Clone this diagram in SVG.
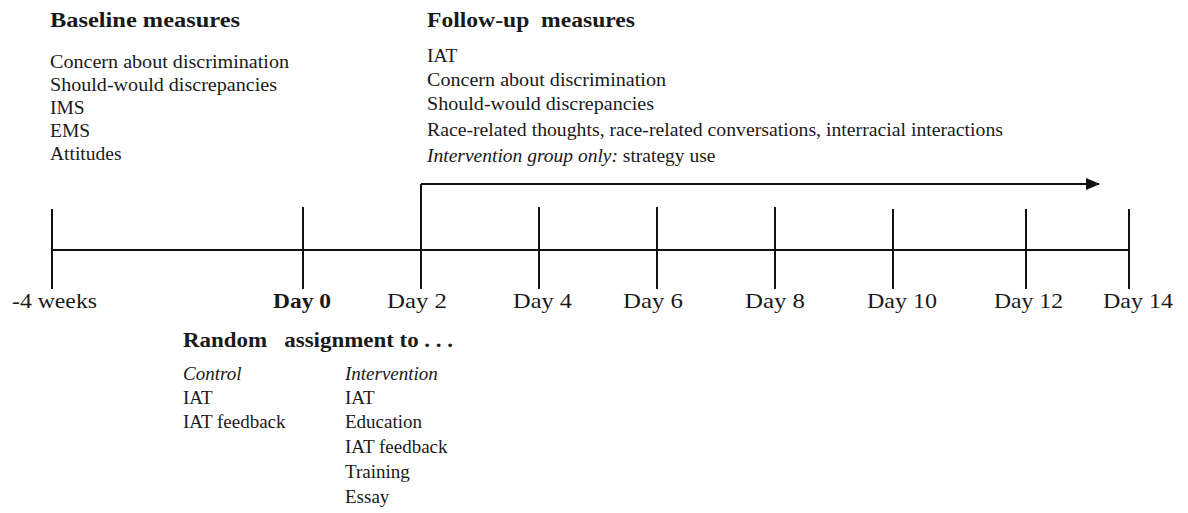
<svg xmlns="http://www.w3.org/2000/svg" width="1188" height="513" viewBox="0 0 1188 513">
<style>
text{font-family:"Liberation Serif","Times New Roman",serif;fill:#1a1a1a;white-space:pre}
.h{font-weight:bold;font-size:20px}
.b{font-size:19.5px}
.t{font-size:21px}
.r{font-size:19px}
.i{font-style:italic}
.ln{stroke:#111;stroke-width:2;fill:none}
</style>
<defs>
<marker id="ah" markerWidth="14" markerHeight="12" refX="13" refY="6" orient="auto" markerUnits="userSpaceOnUse">
<path d="M0,0 L14,6 L0,12 Z" fill="#111"/>
</marker>
</defs>
<g id="baseline">
<text class="h" x="50" y="27" textLength="190" lengthAdjust="spacingAndGlyphs">Baseline measures</text>
<text class="b" x="50" y="68" textLength="239" lengthAdjust="spacingAndGlyphs">Concern about discrimination</text>
<text class="b" x="50" y="91" textLength="227" lengthAdjust="spacingAndGlyphs">Should-would discrepancies</text>
<text class="b" x="50" y="114">IMS</text>
<text class="b" x="50" y="137">EMS</text>
<text class="b" x="50" y="160">Attitudes</text>
</g>
<g id="followup">
<text class="h" x="427" y="27" textLength="208" lengthAdjust="spacingAndGlyphs">Follow-up  measures</text>
<text class="b" x="427" y="62">IAT</text>
<text class="b" x="427" y="86" textLength="239" lengthAdjust="spacingAndGlyphs">Concern about discrimination</text>
<text class="b" x="427" y="110" textLength="227" lengthAdjust="spacingAndGlyphs">Should-would discrepancies</text>
<text class="b" x="427" y="136" textLength="576" lengthAdjust="spacingAndGlyphs">Race-related thoughts, race-related conversations, interracial interactions</text>
<text class="b" x="427" y="162"><tspan class="i">Intervention group only:</tspan> strategy use</text>
</g>
<g id="connectors">
<line class="ln" x1="52" y1="250" x2="1129" y2="250"/>
<line class="ln" x1="52" y1="209" x2="52" y2="289"/>
<line class="ln" x1="303" y1="207" x2="303" y2="289"/>
<line class="ln" x1="421" y1="184" x2="421" y2="289"/>
<line class="ln" x1="539" y1="207" x2="539" y2="289"/>
<line class="ln" x1="657" y1="207" x2="657" y2="289"/>
<line class="ln" x1="775" y1="207" x2="775" y2="289"/>
<line class="ln" x1="893" y1="209" x2="893" y2="289"/>
<line class="ln" x1="1026" y1="209" x2="1026" y2="289"/>
<line class="ln" x1="1129" y1="209" x2="1129" y2="289"/>
<path class="ln" d="M421,184 L1099,184" marker-end="url(#ah)"/>
</g>
<g id="labels">
<text class="t" x="12" y="308" textLength="85" lengthAdjust="spacingAndGlyphs">-4 weeks</text>
<text class="t" x="273" y="308" font-weight="bold" textLength="58" lengthAdjust="spacingAndGlyphs">Day 0</text>
<text class="t" x="387" y="308" textLength="60" lengthAdjust="spacingAndGlyphs">Day 2</text>
<text class="t" x="513" y="308" textLength="59" lengthAdjust="spacingAndGlyphs">Day 4</text>
<text class="t" x="623" y="308" textLength="60" lengthAdjust="spacingAndGlyphs">Day 6</text>
<text class="t" x="745" y="308" textLength="60" lengthAdjust="spacingAndGlyphs">Day 8</text>
<text class="t" x="867" y="308" textLength="70" lengthAdjust="spacingAndGlyphs">Day 10</text>
<text class="t" x="994" y="308" textLength="69" lengthAdjust="spacingAndGlyphs">Day 12</text>
<text class="t" x="1103" y="308" textLength="70" lengthAdjust="spacingAndGlyphs">Day 14</text>
</g>
<g id="assignment">
<text class="h" x="183" y="347" textLength="270" lengthAdjust="spacingAndGlyphs">Random   assignment to . . .</text>
<text class="r i" x="183" y="380">Control</text>
<text class="r" x="183" y="404">IAT</text>
<text class="r" x="183" y="428">IAT feedback</text>
<text class="r i" x="345" y="380">Intervention</text>
<text class="r" x="345" y="404">IAT</text>
<text class="r" x="345" y="428">Education</text>
<text class="r" x="345" y="453">IAT feedback</text>
<text class="r" x="345" y="478">Training</text>
<text class="r" x="345" y="503">Essay</text>
</g>
</svg>
